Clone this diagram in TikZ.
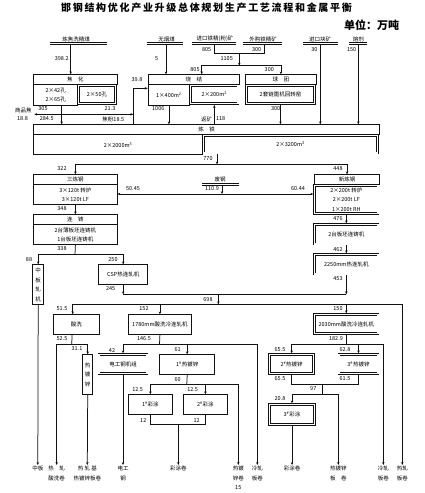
\documentclass[tikz,border=0pt]{standalone}
\usepackage{fontspec}
\setmainfont{Noto Sans CJK SC}
\newfontfamily\titlefont{Noto Sans CJK SC}[LetterSpace=17]
\usetikzlibrary{arrows.meta,positioning,calc}
\definecolor{FlowInk}{HTML}{111111}

\begin{document}
\begin{tikzpicture}[x=1pt,y=-1pt,every node/.style={font=\fontsize{5.5}{9.5}\selectfont,inner sep=0.5pt}]
    \tikzset{box/.style={draw=FlowInk,line width=0.8pt,anchor=north west,align=center,inner sep=0pt},
      dbox/.style={box,double=white,double distance=1.3pt,outer sep=1.3pt},
      flow/.style={draw=FlowInk,line width=0.75pt,-{Stealth[length=2.8pt,width=2.4pt]}},
      link/.style={draw=FlowInk,line width=0.75pt},
      bar/.style={draw=FlowInk,line width=0.7pt,double=white,double distance=1.2pt},
      val/.style={inner sep=0.3pt},
      outlet/.style={anchor=north,align=center,inner sep=0.8pt}}
    \useasboundingbox (0,0) rectangle (425,493);
    \node[font=\titlefont\bfseries\fontsize{10}{12}\selectfont] (title) at (206.5,7.3) {邯钢结构优化产业升级总体规划生产工艺流程和金属平衡};
    \node[font=\fontsize{11}{13}\selectfont\bfseries] (unit) at (371.5,25) {单位：万吨};
    % raw materials
    \node (inCoal) at (76,39) {炼焦洗精煤};
    \node (inAnth) at (166.7,39) {无烟煤};
    \node (inImp) at (215,39) {进口铁精(粉)矿};
    \node (inBuy) at (263,39) {外购铁精矿};
    \node (inLump) at (320,39) {进口块矿};
    \node (inFlux) at (358.3,39) {熔剂};
    \foreach \a/\b in {50/107.3,146.7/183.3,191.7/235.7,243.3/281.7,302.7/338.3,349.3/366.7}{\draw[bar] (\a,43.7) -- (\b,43.7);}
    % ironmaking
    \node[box,minimum width=83.4,minimum height=9.7] (cokeH) at (33.3,74.3) {焦\quad 化};
    \node[box,minimum width=44,minimum height=21] (cokeA) at (33.3,84) {2×42孔\\2×65孔};
    \node[dbox,minimum width=36.8,minimum height=18.4] (cokeB) at (77.3,84) {2×50孔};
    \node[box,minimum width=91.6,minimum height=9.7] (sinH) at (147.7,74.3) {烧\quad 结};
    \node[box,minimum width=41.6,minimum height=21] (sinA) at (147.7,84) {1×400m\textsuperscript{2}};
    \node[dbox,minimum width=47.4,minimum height=18.4] (sinB) at (189.3,84) {2×200m\textsuperscript{2}};
    \node[box,minimum width=71,minimum height=9.7] (pelH) at (245,74.3) {球\quad 团};
    \node[dbox,minimum width=68.4,minimum height=18.4] (pelB) at (245,84) {2套链篦机回转窑};
    \node[box,minimum width=345.7,minimum height=10] (ironH) at (33.3,124.3) {炼\quad 铁};
    \node[box,minimum width=168.7,minimum height=20] (ironA) at (33.3,134.3) {2×2000m\textsuperscript{3}};
    \node[dbox,minimum width=174.4,minimum height=17.4] (ironB) at (202,134.3) {2×3200m\textsuperscript{3}};
    % steelmaking and casting
    \node[box,minimum width=83.4,minimum height=10] (smAH) at (33.3,174.3) {三炼钢};
    \node[box,minimum width=83.4,minimum height=20] (smA) at (33.3,184.3) {3×120t 转炉\\3×120t LF};
    \node[box,minimum width=64.7,minimum height=10] (smBH) at (314.3,174.3) {新炼钢};
    \node[dbox,minimum width=63.4,minimum height=28.1] (smB) at (313.3,184.3) {2×200t 转炉\\2×200t LF\\1×200t RH};
    \node[box,minimum width=83.4,minimum height=10] (ccAH) at (33.3,214.3) {连\quad 铸};
    \node[box,minimum width=83.4,minimum height=20] (ccA) at (33.3,224.3) {2台薄板坯连铸机\\1台板坯连铸机};
    \node[dbox,minimum width=63.4,minimum height=19.4] (ccB) at (313.3,223.3) {2台板坯连铸机};
    % rolling
    \node[box,minimum width=11,minimum height=40] (plate) at (32.3,264.3) {中\\板\\轧\\机};
    \node[box,minimum width=49,minimum height=20] (csp) at (98.3,264.3) {CSP热连轧机};
    \node[dbox,minimum width=63.4,minimum height=19.4] (hsm) at (313.3,253.3) {2250mm热连轧机};
    \node[box,minimum width=45.4,minimum height=20] (pick) at (53.3,314.3) {酸洗};
    \node[box,minimum width=62.4,minimum height=20] (cold1) at (128.3,314.3) {1780mm酸洗冷连轧机};
    \node[dbox,minimum width=63.4,minimum height=19.1] (cold2) at (313.3,313.3) {2030mm酸洗冷连轧机};
    % finishing lines
    \node[box,minimum width=10,minimum height=40] (hdg) at (82.3,354.3) {热\\镀\\锌};
    \node[dbox,minimum width=48,minimum height=19.1] (elec) at (97.7,353.3) {电工钢机组};
    \node[box,minimum width=55,minimum height=20] (galv1) at (159.3,354.3) {1\textsuperscript{\#}热镀锌};
    \node[box,minimum width=43.4,minimum height=20] (coat1) at (128.3,394.3) {1\textsuperscript{\#}彩涂};
    \node[box,minimum width=43.4,minimum height=20] (coat2) at (183.3,394.3) {2\textsuperscript{\#}彩涂};
    \node[dbox,minimum width=44.1,minimum height=19.1] (galv2) at (268.3,353.3) {2\textsuperscript{\#}热镀锌};
    \node[dbox,minimum width=39,minimum height=19.1] (galv3) at (337.7,353.3) {3\textsuperscript{\#}热镀锌};
    \node[dbox,minimum width=44.8,minimum height=19.8] (coat3) at (268.3,403.3) {3\textsuperscript{\#}彩涂};
    % products
    \node[outlet] (outPlate) at (37.8,465) {中板};
    \node[outlet] (outPick) at (56.7,465) {热\quad 轧\\酸洗卷};
    \node[outlet] (outHdg) at (87.3,465) {热\ 轧\ 基\\热镀锌板卷};
    \node[outlet] (outElec) at (123,465) {电工\\钢};
    \node[outlet] (outCoat) at (178.3,465) {彩涂卷};
    \node[outlet] (outGalv) at (238.3,465) {热镀\\锌卷\\15};
    \node[outlet] (outCold) at (257.3,465) {冷轧\\板卷};
    \node[outlet] (outCoatB) at (292,465) {彩涂卷};
    \node[outlet] (outGalvB) at (338.3,465) {热镀锌\\板\quad 卷};
    \node[outlet] (outColdB) at (383.3,465) {冷轧\\板卷};
    \node[outlet] (outHot) at (402.3,465) {热轧\\板卷};
    \node (scrap) at (220,179) {废钢};
    \draw[bar] (202,184.3) -- (239,184.3);
    % junctions
    \coordinate (coalOut) at (70.7,44.9);
    \coordinate (anthOut) at (166,44.9);
    \coordinate (impOut) at (214,44.9);
    \coordinate (buyOut) at (264.3,44.9);
    \coordinate (lumpOut) at (320.3,44.9);
    \coordinate (fluxOut) at (358.3,44.9);
    \coordinate (jOre) at (239.3,53.3);
    \coordinate (jOreB) at (239.3,65.7);
    \coordinate (sinFeed) at (201.7,65.7);
    \coordinate (jCoke) at (61.7,114.3);
    \coordinate (cokeSale) at (34.3,114.3);
    \coordinate (jBreeze) at (133.3,114.3);
    \coordinate (jSinL) at (133.3,88.3);
    \coordinate (jIron) at (217,164.3);
    \coordinate (scrapOut) at (222,185.5);
    \coordinate (jScrap) at (222,194);
    \coordinate (jCast) at (75,254.3);
    \coordinate (jHot) at (218.3,294.3);
    \coordinate (jDist) at (218.3,304.3);
    \coordinate (jPick) at (71.7,344.3);
    \coordinate (jColdA) at (159.5,344.3);
    \coordinate (jGalvA) at (186.8,384.3);
    \coordinate (jCoat) at (178.3,424.3);
    \coordinate (jColdB) at (346.3,344.3);
    \coordinate (jGalvB) at (322.3,384.3);
    \coordinate (jGalvC) at (322.3,394.3);
    % connectors
    \foreach \s/\t in {coalOut/cokeH,anthOut/sinH,lumpOut/ironH,fluxOut/ironH}{\draw[flow] (\s) -- (\s |- \t.north);}
    \draw[link] (impOut) |- (jOre);
    \draw[link] (buyOut) |- (jOre);
    \draw[flow] (jOre) -- (jOreB);
    \draw[flow] (jOreB) -- (sinFeed) -- (sinFeed |- sinH.north);
    \draw[flow] (jOreB) -| (pelH.north);
    \draw[link] (cokeA.south -| jCoke) -- (jCoke);
    \draw[flow] (jCoke) -- (jCoke |- ironH.north);
    \draw[flow] (jCoke) -- (cokeSale);
    \draw[flow] (jCoke) -- (jBreeze);
    \draw[link] (jSinL |- ironH.north) -- (jSinL);
    \draw[flow] (jSinL) -- (jSinL -| sinA.west);
    \draw[flow] (sinA.south) -- (sinA.south |- ironH.north);
    \draw[flow] (ironH.north -| sinB.south) -- (sinB.south);
    \draw[flow] (pelB.south) -- (pelB.south |- ironH.north);
    \draw[flow] (ironB.south -| jIron) -- (jIron);
    \draw[flow] (jIron) -| (smAH.north);
    \draw[flow] (jIron) -| (smBH.north);
    \draw[flow] (scrapOut) -- (jScrap);
    \draw[flow] (jScrap) -- (jScrap -| smA.east);
    \draw[flow] (jScrap) -- (jScrap -| smB.west);
    \foreach \a/\b in {smA/ccAH,smB/ccB,ccB/hsm,plate/outPlate,hdg/outHdg,elec/outElec,coat3/outCoatB}{\draw[flow] (\a.south) -- (\b.north);}
    \draw[link] (ccA.south) -- (jCast);
    \draw[flow] (jCast) -| (plate.north);
    \draw[flow] (jCast) -| (csp.north);
    \draw[flow] (csp.south) -- (csp.south |- jHot);
    \draw[flow] (hsm.south) -- (hsm.south |- jHot);
    \draw[link] (csp.south |- jHot) -- (hsm.south |- jHot);
    \draw[flow] (jHot) -- (jDist);
    \draw[flow] (jDist) -| ([xshift=-3.7]pick.north);
    \foreach \t in {cold1,cold2,outHot}{\draw[flow] (jDist) -| (\t.north);}
    \draw[link] ([xshift=-4.3]pick.south) -- (jPick);
    \foreach \t in {outPick,hdg}{\draw[flow] (jPick) -| (\t.north);}
    \draw[link] (cold1.south) -- (jColdA);
    \foreach \t in {elec,galv1,outCold}{\draw[flow] (jColdA) -| (\t.north);}
    \draw[link] (galv1.south) -- (jGalvA);
    \foreach \t in {coat1,coat2,outGalv}{\draw[flow] (jGalvA) -| (\t.north);}
    \draw[link] (coat1.south) |- (jCoat);
    \draw[link] (coat2.south) |- (jCoat);
    \draw[flow] (jCoat) -- (outCoat.north);
    \draw[link] (cold2.south) -- (jColdB);
    \foreach \t in {galv2,galv3,outColdB}{\draw[flow] (jColdB) -| (\t.north);}
    \draw[link] (galv2.south) |- (jGalvB);
    \draw[link] (galv3.south) |- (jGalvB);
    \draw[link] (jGalvB) -- (jGalvC);
    \foreach \t in {coat3,outGalvB}{\draw[flow] (jGalvC) -| (\t.north);}
    % quantities
    \foreach \x/\y/\t [count=\i] in {61.7/59/398.2,156.7/59/5,206.7/49.3/805,256.7/49.3/300,226.7/59/1105,195/70/805,
      269.3/69.3/300,314.3/49.3/30,351.7/49.3/150,137/80/39.8,43/108.3/305,110/108.3/21.3,23.3/110/商品焦,22.5/119/18.8,
      46.7/119/284.5,113.3/119/焦粉18.5,158.3/109/1006,206.7/119/返矿,220.7/119/118,275.7/108.3/300,208/159/770,
      62/169/322,338/169/448,212/189/110.9,133/189/50.45,298/189/60.44,62/208.7/348,338/218.7/476,338/249.3/462,
      62/249/338,29/259.7/88,113/259.7/250,338/279/453,110.7/289/245,208/300/698,62/309/51.5,144/309/152,338/309/150,
      62/338.7/52.5,144/338.7/146.5,336/338.7/182.9,77/349/31.1,112/350/42,177.7/350/61,280/350/65.5,345/350/62.8,
      177.7/380/60,280/379/65.5,345/379/61.5,137.7/389.3/12.5,192.7/389.3/12.5,313.3/389/97,280/399/20.8,
      143.3/420/12,196.7/420/12}{\node[val] (val\i) at (\x,\y) {\t};}
  \end{tikzpicture}
\end{document}
